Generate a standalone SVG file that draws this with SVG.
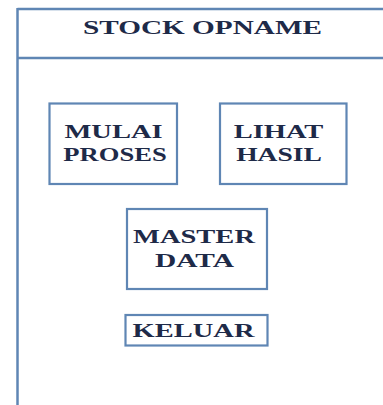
<svg xmlns="http://www.w3.org/2000/svg" width="383" height="405" viewBox="0 0 383 405">
<style>
.ln{stroke:#5f86b4;stroke-width:2.5;fill:none}
.bx{stroke:#5f86b4;stroke-width:2.2;fill:#ffffff}
.t{font-family:"Liberation Serif","Times New Roman",serif;font-weight:bold;font-size:19px;fill:#1e2a48;text-anchor:middle}
</style>
<rect width="383" height="405" fill="#ffffff"/>
<g id="frame">
<line class="ln" x1="17.5" y1="9" x2="383" y2="9"/>
<line class="ln" x1="17.5" y1="58" x2="383" y2="58"/>
<line class="ln" x1="17.5" y1="8" x2="17.5" y2="405"/>
<text class="t" transform="translate(202.5,34) scale(1.5,1)" style="font-size:19.5px">STOCK OPNAME</text>
</g>
<g id="connectors"></g>
<g id="mulai">
<rect class="bx" x="49.5" y="103.5" width="127.5" height="80.5"/>
<text class="t" transform="translate(113.5,138) scale(1.5,1)">MULAI</text>
<text class="t" transform="translate(115,161) scale(1.4,1)">PROSES</text>
</g>
<g id="lihat">
<rect class="bx" x="220" y="103.5" width="126.5" height="80.5"/>
<text class="t" transform="translate(278.5,138) scale(1.5,1)">LIHAT</text>
<text class="t" transform="translate(279,160.5) scale(1.45,1)">HASIL</text>
</g>
<g id="master">
<rect class="bx" x="127" y="209" width="140" height="80"/>
<text class="t" transform="translate(194,243) scale(1.5,1)">MASTER</text>
<text class="t" transform="translate(194.5,267) scale(1.55,1)">DATA</text>
</g>
<g id="keluar">
<rect class="bx" x="125.5" y="315" width="142" height="30.5"/>
<text class="t" transform="translate(193.5,337) scale(1.5,1)">KELUAR</text>
</g>
</svg>
